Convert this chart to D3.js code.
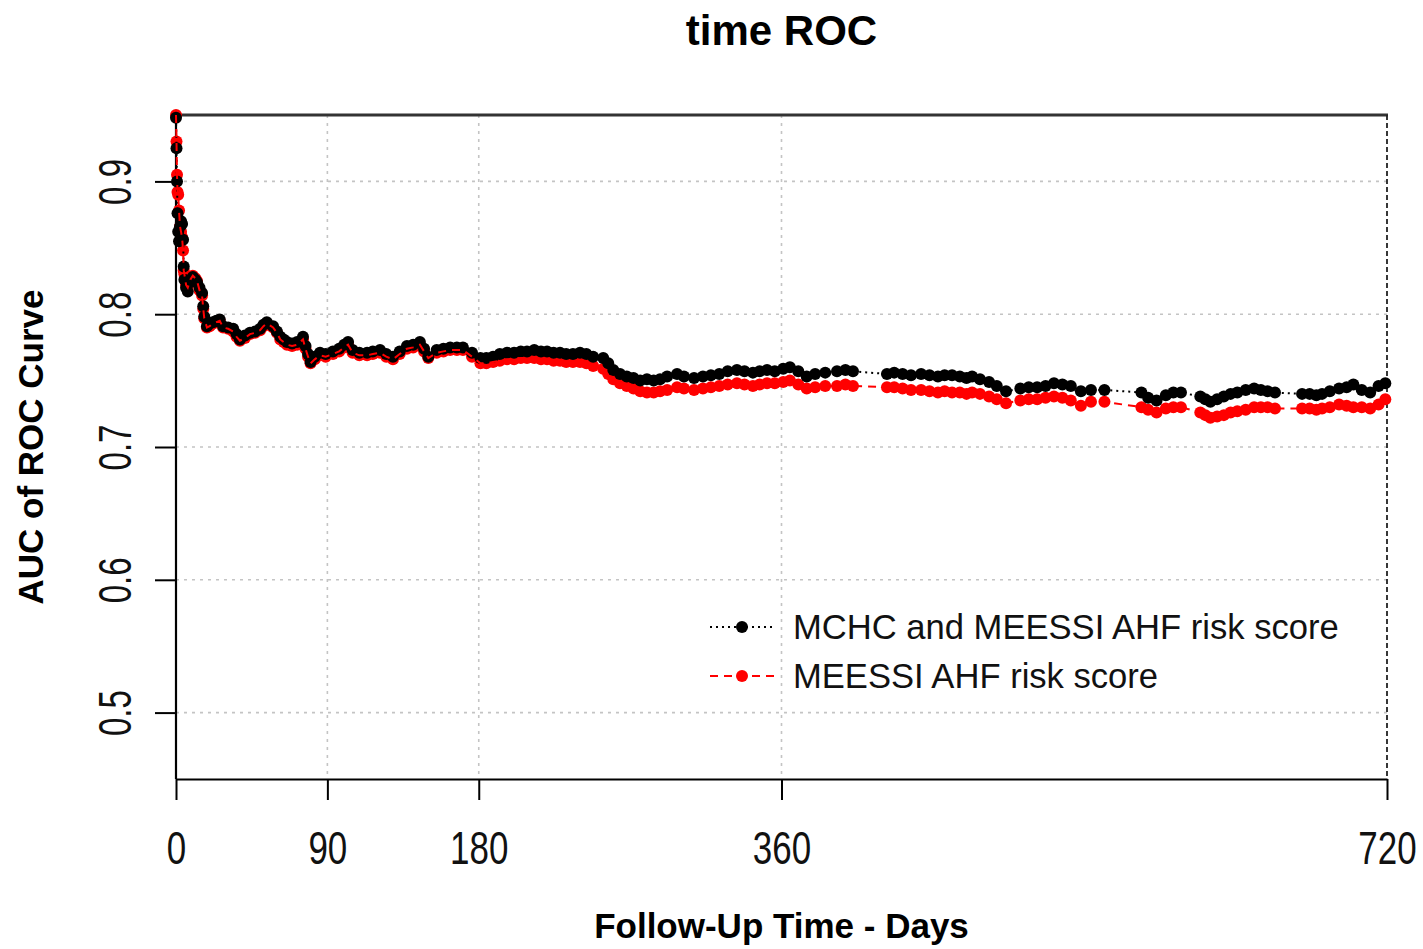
<!DOCTYPE html>
<html>
<head>
<meta charset="utf-8">
<script src="https://cdn.jsdelivr.net/npm/d3@7"></script>
<style>
  body { margin: 0; background: white; }
  text { font-family: "Liberation Sans", Arial, sans-serif; }
</style>
</head>
<body>
<div id="container"></div>
<script>
/* CONSTANTS AND GLOBALS */
const width = 1423,
  height = 949,
  margin = { top: 115, right: 36, bottom: 170, left: 176 },
  radius = 6;

/* DATA */
const days = [
  0, 0.3, 0.6, 0.9, 1.3, 1.8, 2.4, 3.0, 3.6, 4.2,
  4.6, 5, 6, 7, 8.5, 10, 11.5, 12.5, 14, 15.5,
  16.2, 16.8, 18.4, 20, 22, 24, 26, 28, 31, 34,
  36, 38, 41, 44, 47, 50, 52, 54, 57.7, 60,
  62, 64, 66, 69, 72, 75.5, 77, 78.5, 80, 82.5,
  85.6, 89, 93.3, 97, 100, 102.3, 105, 109, 113.6, 117,
  121.3, 125, 129, 133, 137.3, 141, 145, 147.5, 150, 155,
  159, 163, 167, 170.6, 176, 181, 184.5, 188.5, 192.5, 196.8,
  201, 205, 208.7, 213, 217, 220.6, 224.5, 228.3, 232, 236,
  240.2, 244, 248, 254, 257, 260, 264, 268, 272, 276,
  280, 284, 287.8, 292, 297.9, 302, 308, 313.3, 318, 323,
  328, 333.5, 338, 343, 347, 351.4, 356, 361, 365, 370,
  375, 380, 386, 393, 398, 402.5, 422.7, 427, 432, 437,
  443, 448, 453, 457, 461.4, 466, 470, 473.3, 478, 483.4,
  488, 493.5, 502, 507, 512, 517, 522, 527, 532, 538,
  544, 552, 574, 578, 583, 588.5, 593, 597.5, 609, 612,
  615, 619, 623, 627, 631, 636, 641, 645, 649, 653.4,
  669.5, 674, 678, 681.4, 686, 691.5, 696, 700, 705, 710,
  715, 719
];

const aucMchc = [
  .948, .925, .900, .876, .862, .855, .866, .870, .868, .856,
  .836, .826, .820, .817, .824, .828, .826, .824, .820, .816,
  .806, .798, .791, .793, .794, .795, .796, .791, .790, .789,
  .785, .781, .784, .786, .787, .789, .792, .794, .791, .787,
  .783, .781, .779, .778, .779, .783, .776, .770, .764, .768,
  .771, .770, .772, .774, .777, .779, .773, .771, .771, .772,
  .773, .770, .768, .772, .776, .777, .779, .774, .768, .773,
  .774, .775, .775, .775, .771, .767, .767, .768, .770, .771,
  .771, .772, .772, .773, .772, .772, .771, .771, .770, .770,
  .771, .770, .768, .767, .763, .758, .755, .753, .752, .750,
  .751, .750, .751, .753, .755, .753, .752, .753, .754, .755,
  .757, .758, .757, .756, .757, .758, .757, .759, .760, .757,
  .753, .755, .756, .757, .758, .757, .755, .756, .755, .754,
  .755, .754, .753, .754, .754, .753, .752, .753, .751, .749,
  .746, .742, .744, .745, .745, .746, .748, .747, .746, .742,
  .743, .743, .741, .737, .735, .739, .741, .741, .738, .736,
  .734, .736, .738, .740, .741, .743, .744, .743, .742, .741,
  .740, .740, .739, .740, .742, .744, .745, .747, .743, .741,
  .746, .748
];

const aucMeessi = [
  .950, .930, .905, .892, .890, .878, .866, .862, .858, .848,
  .833, .830, .822, .820, .826, .829, .827, .825, .818, .814,
  .804, .797, .790, .791, .793, .794, .795, .790, .789, .787,
  .783, .780, .782, .785, .786, .788, .791, .793, .790, .786,
  .781, .779, .777, .776, .777, .781, .774, .768, .763, .766,
  .769, .768, .770, .772, .775, .777, .771, .769, .769, .770,
  .771, .768, .766, .770, .774, .775, .777, .772, .767, .771,
  .772, .773, .773, .773, .768, .763, .763, .764, .765, .766,
  .766, .767, .767, .767, .766, .766, .765, .765, .764, .764,
  .764, .763, .761, .759, .755, .751, .748, .746, .744, .742,
  .741, .741, .742, .743, .745, .744, .743, .744, .745, .746,
  .747, .748, .747, .746, .747, .748, .748, .749, .750, .747,
  .744, .745, .746, .746, .747, .746, .745, .745, .744, .743,
  .743, .742, .741, .742, .741, .741, .740, .741, .740, .738,
  .736, .733, .735, .736, .736, .737, .738, .737, .735, .731,
  .734, .734, .730, .728, .726, .729, .730, .730, .726, .724,
  .722, .723, .724, .726, .727, .728, .730, .730, .730, .729,
  .729, .729, .728, .729, .730, .732, .731, .730, .730, .729,
  .732, .736
];

const xTicks = [0, 90, 180, 360, 720];
const yTicks = [0.5, 0.6, 0.7, 0.8, 0.9];
const seriesNames = ["MCHC and MEESSI AHF risk score", "MEESSI AHF risk score"];

const combined = days.map((d, i) => ({ day: d, auc: aucMchc[i] }));
const meessi = days.map((d, i) => ({ day: d, auc: aucMeessi[i] }));

const svg = d3.select("#container")
  .append("svg")
  .attr("width", width)
  .attr("height", height)
  .style("background-color", "white");

/* SCALES */
const xScale = d3.scaleLinear()
  .domain([0, 720])
  .range([margin.left, width - margin.right]);

const yScale = d3.scaleLinear()
  .domain([0.45, 0.95])
  .range([height - margin.bottom, margin.top]);

const x0 = xScale(0), x1 = xScale(720);
const y0 = yScale(0.45), y1 = yScale(0.95);

/* GRID */
const gridColor = "#c4c4c4";
svg.append("g")
  .selectAll("line")
  .data(xTicks.slice(1, -1))
  .join("line")
  .attr("x1", d => xScale(d)).attr("x2", d => xScale(d))
  .attr("y1", y1).attr("y2", y0)
  .attr("stroke", gridColor)
  .attr("stroke-width", 1.6)
  .attr("stroke-dasharray", "3,5");

svg.append("g")
  .selectAll("line")
  .data(yTicks)
  .join("line")
  .attr("x1", x0).attr("x2", x1)
  .attr("y1", d => yScale(d)).attr("y2", d => yScale(d))
  .attr("stroke", gridColor)
  .attr("stroke-width", 1.6)
  .attr("stroke-dasharray", "3,5");

/* BOX (top + right, axes draw left + bottom) */
svg.append("line")
  .attr("x1", x0 - 1).attr("x2", x1 + 1)
  .attr("y1", y1).attr("y2", y1)
  .attr("stroke", "#333").attr("stroke-width", 3);
svg.append("line")
  .attr("x1", x1).attr("x2", x1)
  .attr("y1", y1).attr("y2", y0)
  .attr("stroke", "#222").attr("stroke-width", 1.8)
  .attr("stroke-dasharray", "5,3");

/* AXES */
const xAxis = d3.axisBottom(xScale)
  .tickValues(xTicks)
  .tickSize(21)
  .tickSizeOuter(0);

const gx = svg.append("g")
  .attr("transform", `translate(0, ${y0})`)
  .call(xAxis);

gx.select(".domain").attr("stroke-width", 2.2);
gx.selectAll(".tick line").attr("stroke-width", 2);
gx.selectAll(".tick text")
  .attr("y", 85)
  .attr("dy", null)
  .attr("fill", "#111")
  .style("font-size", "46px")
  .attr("transform", "scale(0.76,1)");

const yAxis = d3.axisLeft(yScale)
  .tickValues(yTicks)
  .tickFormat(d3.format(".1f"))
  .tickSize(21)
  .tickSizeOuter(0);

const gy = svg.append("g")
  .attr("transform", `translate(${x0}, 0)`)
  .call(yAxis);

gy.select(".domain").attr("d", `M0,${y0}V${y1 - 1}`).attr("stroke-width", 2.2);
gy.selectAll(".tick line").attr("stroke-width", 2);
gy.selectAll(".tick text")
  .attr("x", null)
  .attr("dy", null)
  .attr("text-anchor", "middle")
  .attr("fill", "#111")
  .style("font-size", "46px")
  .attr("transform", "translate(-45,0) rotate(-90) scale(0.72,1)");

/* MARKS */
const line = d3.line()
  .x(d => xScale(d.day))
  .y(d => yScale(d.auc));

svg.append("g")
  .selectAll("circle")
  .data(meessi)
  .join("circle")
  .attr("cx", d => xScale(d.day))
  .attr("cy", d => yScale(d.auc))
  .attr("r", radius)
  .attr("fill", "#ff0000");

svg.append("g")
  .selectAll("circle")
  .data(combined)
  .join("circle")
  .attr("cx", d => xScale(d.day))
  .attr("cy", d => yScale(d.auc))
  .attr("r", radius)
  .attr("fill", "black");

svg.append("path")
  .datum(combined)
  .attr("d", line)
  .attr("fill", "none")
  .attr("stroke", "black")
  .attr("stroke-width", 2)
  .attr("stroke-dasharray", "2,4");

svg.append("path")
  .datum(meessi)
  .attr("d", line)
  .attr("fill", "none")
  .attr("stroke", "#ff0000")
  .attr("stroke-width", 2)
  .attr("stroke-dasharray", "8,6");

/* LEGEND */
const legend = svg.append("g");
const legendRows = [
  { name: seriesNames[0], color: "black", dash: "2,4", y: 627 },
  { name: seriesNames[1], color: "#ff0000", dash: "8,6", y: 676 }
];
legendRows.forEach(r => {
  legend.append("line")
    .attr("x1", 710).attr("x2", 776)
    .attr("y1", r.y).attr("y2", r.y)
    .attr("stroke", r.color).attr("stroke-width", 2)
    .attr("stroke-dasharray", r.dash);
  legend.append("circle")
    .attr("cx", 742).attr("cy", r.y)
    .attr("r", radius).attr("fill", r.color);
  legend.append("text")
    .attr("x", 793).attr("y", r.y + 12)
    .style("font-size", "34.6px")
    .attr("fill", "#111")
    .text(r.name);
});

/* TITLES */
svg.append("text")
  .attr("x", (x0 + x1) / 2).attr("y", 45)
  .attr("text-anchor", "middle")
  .style("font-size", "42px").style("font-weight", "bold")
  .text("time ROC");

svg.append("text")
  .attr("x", (x0 + x1) / 2).attr("y", 938)
  .attr("text-anchor", "middle")
  .style("font-size", "35px").style("font-weight", "bold")
  .text("Follow-Up Time - Days");

svg.append("text")
  .attr("transform", `translate(43, ${(y0 + y1) / 2}) rotate(-90)`)
  .attr("text-anchor", "middle")
  .style("font-size", "35px").style("font-weight", "bold")
  .text("AUC of ROC Curve");
</script>
</body>
</html>
